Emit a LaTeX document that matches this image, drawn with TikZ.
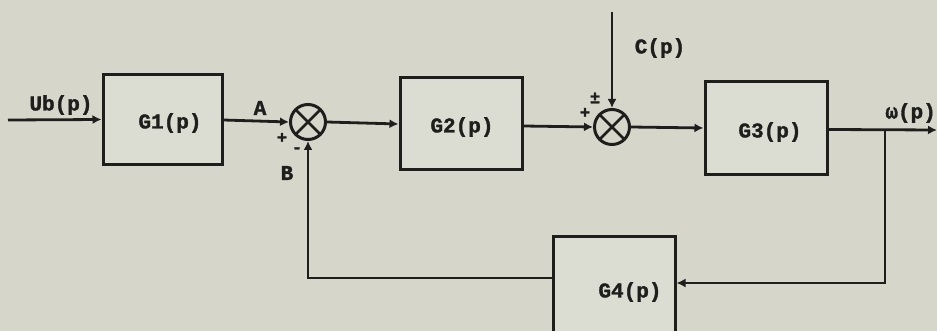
\documentclass[tikz,border=0pt]{standalone}
\usepackage{fontspec}
\setmainfont{Liberation Mono}[BoldFeatures={FakeBold=1.5}]
\usetikzlibrary{arrows.meta}
\definecolor{paper}{RGB}{214,214,202}
\definecolor{boxfill}{RGB}{220,221,210}
\definecolor{ink}{RGB}{30,30,28}
\tikzset{
  blk/.style={draw=ink, line width=3pt, fill=boxfill, minimum width=#1, inner sep=0pt},
  sumj/.style={circle, draw=ink, line width=3pt, minimum size=35pt, inner sep=0pt,
    path picture={\draw[ink, line width=2.6pt]
      (path picture bounding box.north west) -- (path picture bounding box.south east)
      (path picture bounding box.north east) -- (path picture bounding box.south west);}},
  wire/.style={draw=ink, line width=2.8pt},
  sig/.style={wire, -{Latex[length=9pt,width=9pt]}},
  lbl/.style={font=\fontsize{21}{21}\selectfont\bfseries, text=ink, inner sep=0pt},
  sgn/.style={font=\fontsize{17}{17}\selectfont\bfseries, text=ink, inner sep=0pt}
}
\begin{document}
\begin{tikzpicture}[x=1pt,y=-1pt]
\fill[paper] (0,0) rectangle (937,331);
\useasboundingbox (0,0) rectangle (937,331);
% blocks
\node[blk=119pt, minimum height=90pt] (G1) at (162.5,119.5) {};
\node[lbl] (t1) at (170,123) {G1(p)};
\node[blk=122pt, minimum height=92pt] (G2) at (461,124) {};
\node[lbl] (t2) at (462,127) {G2(p)};
\node[blk=122pt, minimum height=93pt] (G3) at (766,128.5) {};
\node[lbl] (t3) at (770,132) {G3(p)};
\node[blk=122pt, minimum height=120pt] (G4) at (614,297) {};
\node[lbl] (t4) at (630,292) {G4(p)};
% summing junctions
\node[sumj] (S1) at (308,122) {};
\node[sumj] (S2) at (612,127) {};
% coordinates
\coordinate (in) at (8,120);
\coordinate (cin) at (612,12);
\coordinate (out) at (937,130);
\coordinate (br) at (885,129.5);
\coordinate (brd) at (885,283);
\coordinate (fbl) at (308,278);
% connectors
\draw[sig] (in) -- (G1.west);
\draw[sig] (G1.east |- 0,120) -- (S1.west);
\draw[sig] (S1.east) -- (G2.west |- 0,124);
\draw[sig] (G2.east |- 0,126) -- (S2.west);
\draw[sig] (cin) -- (S2.north);
\draw[sig] (S2.east) -- (G3.west |- 0,128);
\draw[sig] (G3.east |- 0,129.5) -- (out);
\draw[sig] (br) -- (brd) -- (G4.east |- brd);
\draw[sig] (G4.west |- fbl) -- (fbl) -- (S1.south);
% labels
\node[lbl] (lu) at (61,105) {Ub(p)};
\node[lbl] (la) at (260,108) {A};
\node[lbl] (lb) at (287,173) {B};
\node[sgn] (p1) at (282,138) {+};
\node[sgn] (m1) at (297,150) {-};
\node[lbl] (lc) at (660,48) {C(p)};
\node[sgn] (pm) at (595,98) {±};
\node[sgn] (p2) at (585,113) {+};
\node[lbl, anchor=east] (lw) at (936,113) {ω(p)};
\end{tikzpicture}
\end{document}
